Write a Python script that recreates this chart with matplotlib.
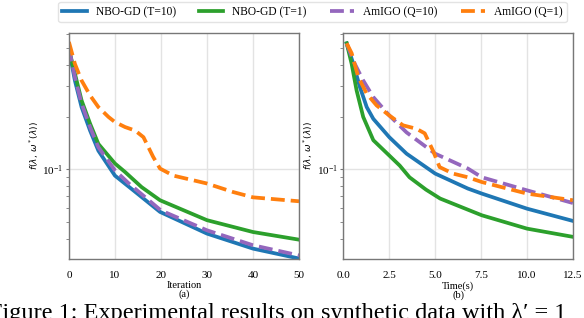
import matplotlib
matplotlib.use('Agg')
import matplotlib.pyplot as plt
from matplotlib.ticker import LogLocator, NullFormatter

matplotlib.rcParams['font.family'] = 'Liberation Serif'
matplotlib.rcParams['mathtext.fontset'] = 'dejavusans'

# (a) objective vs iteration
iter_blue = [0, 1.3, 2.75, 4.6, 6.4, 10, 14, 19.8, 30, 40, 50]
val_blue = [0.49, 0.324, 0.228, 0.167, 0.128, 0.092, 0.0757, 0.0569, 0.0427, 0.035, 0.0307]
iter_green = [0, 1.3, 2.75, 4.6, 6.4, 10, 12.2, 15.8, 19.8, 30, 40, 50]
val_green = [0.49, 0.355, 0.249, 0.183, 0.14, 0.108, 0.0965, 0.079, 0.0664, 0.051, 0.0436, 0.0394]
iter_purple = [0, 1.3, 2.75, 4.6, 6.4, 10, 13, 20, 30, 40, 50]
val_purple = [0.5, 0.339, 0.239, 0.175, 0.134, 0.0987, 0.083, 0.058, 0.0446, 0.0366, 0.032]
iter_orange = [0, 1.3, 2.75, 4.6, 6.4, 8.6, 10, 12.2, 14.4, 16.2, 18.3, 19.8, 22.7, 29.9, 35.7, 40, 50]
val_orange = [0.54, 0.404, 0.324, 0.266, 0.228, 0.20, 0.187, 0.175, 0.167, 0.153, 0.118, 0.101,
              0.092, 0.083, 0.074, 0.069, 0.0655]

# (b) objective vs wall-clock time
time_blue = [0.18, 0.54, 0.9, 1.27, 1.63, 2.5, 3.44, 5.0, 6.78, 7.54, 10.0, 12.5]
tval_blue = [0.53, 0.404, 0.297, 0.228, 0.195, 0.153, 0.123, 0.0945, 0.0775, 0.0725, 0.0594, 0.0505]
time_green = [0.18, 0.45, 0.72, 1.08, 1.63, 2.5, 3.07, 3.6, 4.5, 5.27, 7.54, 10.0, 12.5]
tval_green = [0.53, 0.404, 0.284, 0.2, 0.147, 0.12, 0.105, 0.09, 0.0764, 0.0679, 0.0544, 0.0456, 0.0409]
time_purple = [0.18, 0.54, 1.08, 1.63, 2.5, 3.44, 5.0, 6.78, 7.54, 10.0, 12.5]
tval_purple = [0.53, 0.42, 0.324, 0.26, 0.204, 0.163, 0.123, 0.101, 0.090, 0.0757, 0.064]
time_orange = [0.18, 0.45, 0.81, 1.27, 1.81, 2.5, 3.25, 3.98, 4.43, 4.88, 5.24, 5.97, 6.78, 7.54, 10.0, 12.5]
tval_orange = [0.53, 0.465, 0.339, 0.272, 0.233, 0.204, 0.179, 0.171, 0.161, 0.128, 0.103, 0.0945,
               0.090, 0.0845, 0.0725, 0.0664]

labels = ['NBO-GD (T=10)', 'NBO-GD (T=1)', 'AmIGO (Q=10)', 'AmIGO (Q=1)']
colors = ['#1f77b4', '#2ca02c', '#9467bd', '#ff7f0e']
styles = ['-', '-', '--', '--']

fig = plt.figure(figsize=(5.84, 3.18), dpi=100)
ax_a = fig.add_axes([0.118, 0.1855, 0.394, 0.7116])
ax_b = fig.add_axes([0.588, 0.1855, 0.393, 0.7116])

series_a = [(iter_blue, val_blue), (iter_green, val_green), (iter_purple, val_purple), (iter_orange, val_orange)]
series_b = [(time_blue, tval_blue), (time_green, tval_green), (time_purple, tval_purple), (time_orange, tval_orange)]

for ax, series in ((ax_a, series_a), (ax_b, series_b)):
    for (x, y), lab, c, ls in zip(series, labels, colors, styles):
        ax.plot(x, y, ls, color=c, lw=2.7, label=lab)
    ax.set_yscale('log')
    ax.set_ylim(0.0305, 0.61)
    ax.yaxis.set_minor_locator(LogLocator(base=10, subs=range(2, 10)))
    ax.yaxis.set_minor_formatter(NullFormatter())
    ax.grid(True, which='major', color='#e3e3e3', lw=1)
    ax.set_axisbelow(True)
    for s in ax.spines.values():
        s.set_color('#777777')
        s.set_linewidth(1)
    ax.tick_params(which='major', length=0, labelsize=8)
    ax.tick_params(axis='x', pad=8.5)
    ax.tick_params(axis='y', which='major', length=2, color='#777777', pad=2)
    ax.tick_params(axis='y', which='minor', length=2, color='#777777')
    ax.set_ylabel(r'$f(\lambda,\,\omega^*(\lambda))$', fontsize=6.5, labelpad=1)

ax_a.set_xlim(0, 50)
ax_a.set_xticks([0, 10, 20, 30, 40, 50])
ax_a.set_xlabel('Iteration\n(a)', fontsize=7.5, labelpad=1, linespacing=0.95)
ax_b.set_xlim(0, 12.5)
ax_b.set_xticks([0, 2.5, 5.0, 7.5, 10.0, 12.5])
ax_b.set_xlabel('Time(s)\n(b)', fontsize=7.5, labelpad=1, linespacing=0.95)

handles, labs = ax_a.get_legend_handles_labels()
fig.legend(handles, labs, loc='upper center', bbox_to_anchor=(312.5 / 584, 1 - 2 / 318), ncol=4,
           fontsize=8.3, frameon=True, fancybox=True, edgecolor='#dddddd', borderaxespad=0,
           handlelength=2.1, columnspacing=2.0, borderpad=0.35)

fig.text(-11 / 584, 1 - 303 / 318, 'Figure 1: Experimental results on synthetic data with \u03bb\u2032 = 1',
         fontsize=17.5, va='top', ha='left')

fig.savefig('out.png', dpi=100)
